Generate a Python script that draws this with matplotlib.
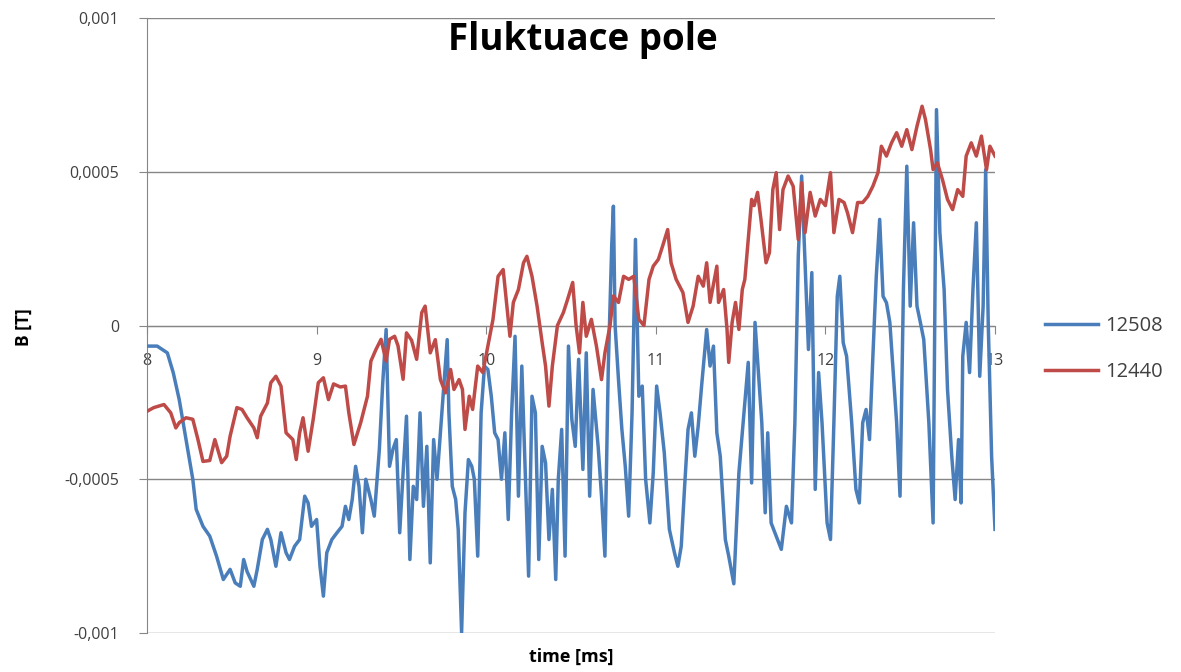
import numpy as np
import matplotlib.pyplot as plt

# values, B in units of 1e-4 T, time in ms
t_12508 = [
    8.00, 8.06, 8.12, 8.155, 8.19, 8.23, 8.27, 8.29, 8.33, 8.37, 8.41, 8.45, 8.49, 8.52,
    8.55, 8.57, 8.59, 8.63, 8.65, 8.68, 8.71, 8.73, 8.76, 8.79, 8.82, 8.84, 8.87, 8.90,
    8.93, 8.95, 8.97, 9.00, 9.02, 9.04, 9.06, 9.09, 9.12, 9.15, 9.17, 9.19, 9.21, 9.23,
    9.25, 9.27, 9.29, 9.32, 9.34, 9.355, 9.37, 9.39, 9.41, 9.43, 9.45, 9.47, 9.49, 9.51,
    9.53, 9.55, 9.57, 9.59, 9.61, 9.63, 9.65, 9.67, 9.69, 9.71, 9.73, 9.75, 9.77, 9.78,
    9.80, 9.82, 9.835, 9.855, 9.875, 9.895, 9.915, 9.93, 9.95, 9.97, 9.99, 10.01, 10.03,
    10.05, 10.07, 10.09, 10.11, 10.13, 10.15, 10.17, 10.19, 10.21, 10.23, 10.25, 10.27,
    10.29, 10.31, 10.33, 10.35, 10.37, 10.39, 10.41, 10.425, 10.445, 10.465, 10.485,
    10.505, 10.525, 10.545, 10.57, 10.59, 10.61, 10.63, 10.66, 10.68, 10.70, 10.72, 10.74,
    10.75, 10.76, 10.78, 10.80, 10.82, 10.84, 10.86, 10.88, 10.90, 10.92, 10.94, 10.965,
    10.985, 11.005, 11.025, 11.05, 11.08, 11.11, 11.13, 11.15, 11.17, 11.19, 11.21, 11.23,
    11.25, 11.27, 11.30, 11.32, 11.34, 11.36, 11.38, 11.41, 11.43, 11.46, 11.49, 11.515,
    11.545, 11.565, 11.585, 11.605, 11.625, 11.645, 11.66, 11.68, 11.71, 11.74, 11.77,
    11.80, 11.82, 11.84, 11.86, 11.88, 11.90, 11.92, 11.94, 11.96, 11.98, 12.01, 12.03,
    12.05, 12.07, 12.085, 12.105, 12.125, 12.155, 12.18, 12.20, 12.22, 12.24, 12.26, 12.28,
    12.30, 12.32, 12.34, 12.36, 12.38, 12.40, 12.42, 12.44, 12.46, 12.48, 12.50, 12.52,
    12.54, 12.56, 12.58, 12.61, 12.635, 12.655, 12.675, 12.70, 12.72, 12.745, 12.765,
    12.785, 12.80, 12.81, 12.83, 12.85, 12.87, 12.89, 12.91, 12.93, 12.945, 12.96, 12.98,
    13.00,
]
b_12508 = [
    -0.67, -0.67, -0.89, -1.54, -2.41, -3.71, -5.0, -5.98, -6.53, -6.85, -7.5, -8.26, -7.93, -8.37,
    -8.48, -7.61, -8.0, -8.48, -7.93, -6.96, -6.63, -6.96, -7.83, -6.74, -7.39, -7.61, -7.18, -6.96,
    -5.55, -5.77, -6.53, -6.31, -7.83, -8.8, -7.39, -6.96, -6.74, -6.53, -5.88, -6.31, -5.66, -4.58,
    -5.23, -6.74, -5.0, -5.66, -6.2, -5.12, -4.03, -1.86, -0.13, -4.58, -4.03, -3.71, -6.74, -4.8,
    -2.95, -7.61, -5.23, -5.66, -2.84, -5.88, -3.93, -7.72, -3.71, -5.0, -3.49, -1.97, -0.46, -2.84,
    -5.23, -5.66, -6.63, -9.98, -6.09, -4.36, -4.58, -5.0, -7.5, -2.84, -1.32, -1.43, -2.3,
    -3.49, -3.71, -5.0, -3.49, -6.31, -2.84, -0.35, -5.55, -1.32, -4.79, -8.15, -2.3,
    -2.84, -7.61, -3.93, -4.47, -6.96, -5.33, -8.26, -5.0, -3.38, -7.5, -0.67,
    -3.06, -3.93, -1.1, -4.68, -0.89, -5.55, -2.08, -3.93, -5.55, -7.5, -1.32, 2.58,
    3.88, 0.0, -1.76, -3.38, -4.58, -6.2, -2.84, 2.8, -2.3, -1.97, -5.0, -6.42,
    -4.79, -1.97, -2.84, -4.14, -6.63, -7.39, -7.83, -7.18, -5.23, -3.38, -2.84, -4.25,
    -3.27, -1.97, -0.13, -1.32, -0.67, -3.49, -4.25, -6.96, -7.5, -8.4, -4.79, -3.16,
    -1.2, -5.12, 0.1, -1.53, -3.16, -6.09, -3.49, -6.42, -6.85, -7.28, -5.88,
    -6.42, -3.16, 2.25, 4.86, 2.04, -0.78, 1.72, -5.33, -1.53, -3.16, -6.42, -6.96,
    -3.16, 0.95, 1.6, -0.56, -1.0, -3.16, -5.33, -5.77, -3.16, -2.73, -3.71, -1.0,
    1.6, 3.45, 0.95, 0.74, 0.1, -1.53, -3.16, -5.55, 1.17, 5.18, 0.63, 3.34,
    0.63, 0.1, -0.46, -3.16, -6.42, 7.02, 3.02, 1.17, -2.08, -4.25, -5.66,
    -3.71, -5.77, -1.0, 0.1, -1.53, 1.17, 3.34, -1.65, 0.63, 5.07, 0.1, -4.25,
    -6.63,
]

t_12440 = [
    8.00, 8.04, 8.10, 8.14, 8.17, 8.19, 8.23, 8.27, 8.30, 8.33, 8.37, 8.40, 8.44, 8.47,
    8.49, 8.53, 8.56, 8.59, 8.63, 8.65, 8.67, 8.71, 8.73, 8.76, 8.79, 8.82, 8.86, 8.88,
    8.90, 8.92, 8.95, 8.98, 9.01, 9.04, 9.07, 9.10, 9.14, 9.17, 9.19, 9.22, 9.26, 9.30,
    9.32, 9.35, 9.38, 9.41, 9.43, 9.46, 9.48, 9.51, 9.53, 9.56, 9.59, 9.62, 9.64, 9.67,
    9.70, 9.73, 9.76, 9.79, 9.81, 9.84, 9.86, 9.875, 9.90, 9.92, 9.95, 9.98, 10.01, 10.04,
    10.07, 10.10, 10.12, 10.14, 10.16, 10.19, 10.22, 10.24, 10.27, 10.30, 10.33, 10.35,
    10.37, 10.39, 10.42, 10.455, 10.48, 10.51, 10.53, 10.55, 10.57, 10.59, 10.62, 10.65,
    10.68, 10.70, 10.73, 10.75, 10.78, 10.81, 10.84, 10.87, 10.90, 10.93, 10.96, 10.985,
    11.015, 11.04, 11.07, 11.09, 11.12, 11.16, 11.19, 11.22, 11.25, 11.28, 11.30, 11.32,
    11.36, 11.37, 11.40, 11.42, 11.43, 11.45, 11.47, 11.49, 11.51, 11.525, 11.545, 11.565,
    11.58, 11.60, 11.62, 11.65, 11.67, 11.69, 11.71, 11.73, 11.75, 11.78, 11.81, 11.84,
    11.86, 11.88, 11.91, 11.94, 11.97, 12.00, 12.03, 12.05, 12.08, 12.11, 12.13, 12.16,
    12.19, 12.22, 12.25, 12.28, 12.31, 12.33, 12.36, 12.39, 12.42, 12.45, 12.48, 12.51,
    12.54, 12.57, 12.59, 12.62, 12.635, 12.66, 12.69, 12.72, 12.75, 12.78, 12.81, 12.83,
    12.86, 12.89, 12.92, 12.95, 12.97, 13.00,
]
b_12440 = [
    -2.79, -2.67, -2.57, -2.84, -3.33, -3.16, -3.0, -3.05, -3.7, -4.42, -4.39, -3.71, -4.46, -4.25,
    -3.6, -2.67, -2.73, -3.0, -3.33, -3.65, -2.95, -2.52, -1.86, -1.65, -1.97, -3.49, -3.71, -4.36,
    -3.49, -3.0, -4.09, -3.05, -1.86, -1.7, -2.41, -1.9, -2.0, -1.97, -2.84, -3.87, -3.16, -2.3,
    -1.16, -0.78, -0.45, -1.16, -0.45, -0.35, -0.66, -1.75, -0.24, -0.48, -1.1, 0.42, 0.63, -0.89,
    -0.46, -1.76, -2.19, -1.43, -2.08, -1.76, -2.08, -3.38, -2.3, -2.73, -1.32, -1.53, -0.67, 0.2,
    1.6, 1.82, 0.75, -0.35, 0.75, 1.17, 2.04, 2.25, 1.6, 0.63, -0.56, -1.32,
    -2.62, -1.32, 0.0, 0.42, 0.85, 1.4, 0.0, -0.89, 0.75, -0.35, 0.2, -0.67,
    -1.76, -0.89, 0.0, 0.96, 0.75, 1.6, 1.5, 1.6, 0.2, 0.0, 1.5, 1.93,
    2.15, 2.58, 3.12, 2.04, 1.5, 1.07, 0.1, 0.63, 1.6, 1.28, 2.04, 0.75,
    1.93, 0.75, 1.17, -0.13, -1.2, 0.1, 0.75, -0.13, 1.17, 1.5, 2.8, 4.1,
    3.9, 4.33, 3.45, 2.04, 2.37, 4.42, 4.97, 3.12, 4.42, 4.86, 4.53, 2.8,
    4.64, 3.02, 4.33, 3.56, 4.1, 3.9, 4.97, 3.02, 4.1, 4.0, 3.67, 3.02,
    4.0, 4.0, 4.2, 4.53, 4.97, 5.83, 5.51, 5.94, 6.27, 5.83, 6.37, 5.72,
    6.48, 7.13, 6.7, 5.72, 5.07, 5.29, 4.75, 4.1, 3.77, 4.42, 4.2, 5.51,
    5.94, 5.51, 6.16, 5.07, 5.83, 5.51,
]

series_names = ["12508", "12440"]
y_ticks = [-0.001, -0.0005, 0, 0.0005, 0.001]
y_tick_labels = ["-0,001", "-0,0005", "0", "0,0005", "0,001"]
x_ticks = [8, 9, 10, 11, 12, 13]

plt.rcParams["font.family"] = ["Open Sans", "DejaVu Sans"]
grey = "#868686"
text_col = "#404040"

fig = plt.figure(figsize=(11.81, 6.72), dpi=100)
ax = fig.add_axes([147 / 1181, 1 - 633 / 672, 848 / 1181, 615 / 672])

ax.plot(t_12508, np.array(b_12508) * 1e-4, color="#4a7ebb", lw=2.5, zorder=3, label=series_names[0])
ax.plot(t_12440, np.array(b_12440) * 1e-4, color="#be4b48", lw=2.5, zorder=4, label=series_names[1])

ax.set_xlim(8, 13)
ax.set_ylim(-0.001, 0.001)
ax.set_yticks(y_ticks)
ax.set_yticklabels(y_tick_labels)
ax.set_xticks(x_ticks)
ax.set_xticklabels([str(x) for x in x_ticks])

for side in ["top", "right"]:
    ax.spines[side].set_visible(False)
ax.spines["left"].set_color(grey)
ax.spines["bottom"].set_position(("data", 0))
ax.spines["bottom"].set_color(grey)
ax.yaxis.grid(True, color=grey, lw=1)
ax.set_axisbelow(True)

ax.tick_params(axis="y", direction="out", length=6, color=grey, labelsize=11.5, labelcolor=text_col, pad=14)
ax.tick_params(axis="x", direction="out", length=6, color=grey, labelsize=11.5, labelcolor=text_col, pad=14)

fig.text(583 / 1181, 1 - 50 / 672, "Fluktuace pole", ha="center", va="baseline",
         fontsize=26.5, fontweight="bold", color="black")
fig.text(24 / 1181, 1 - 327 / 672, "B [T]", rotation=90, ha="center", va="center",
         fontsize=12.5, fontweight="bold", color="black")
fig.text(571 / 1181, 1 - 657 / 672, "time [ms]", ha="center", va="center",
         fontsize=13, fontweight="bold", color="black")

fig.legend(loc="center left", bbox_to_anchor=(1045 / 1181, 1 - 349 / 672), frameon=False,
           fontsize=14.5, handlelength=2.65, handletextpad=0.35, labelspacing=1.3,
           borderpad=0, borderaxespad=0, labelcolor=text_col)

fig.savefig("out.png", dpi=100)
